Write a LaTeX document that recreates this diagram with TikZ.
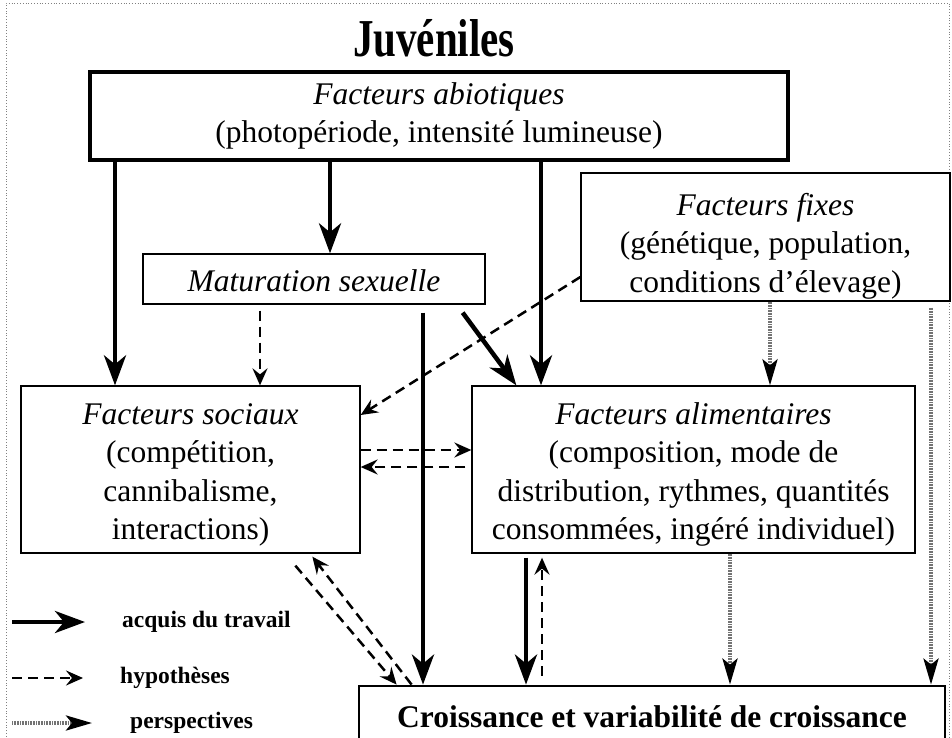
\documentclass[tikz,border=0pt]{standalone}
\usepackage{fontspec}
\usepackage{graphicx}
\setmainfont{Liberation Serif}
\usetikzlibrary{arrows.meta,calc}
\begin{document}
\begin{tikzpicture}[x=1pt,y=-1pt,
  box/.style={draw, line width=1.3pt, inner sep=0pt, align=center, font=\fontsize{31.5}{38.5}\selectfont},
  acq/.style={line width=4.5pt, -{Stealth[length=30pt,width=22pt,inset=9pt]}},
  hyp/.style={line width=2.5pt, dash pattern=on 10pt off 6pt, -{Stealth[length=17pt,width=15pt,inset=6pt]}},
  persp/.style={draw=black!55, line width=3.8pt, dash pattern=on 1pt off 0.6pt, -{Stealth[length=26pt,width=15pt,inset=6pt,color=black]}},
  legtext/.style={anchor=west, inner sep=0pt, font=\bfseries\fontsize{23.5}{23.5}\selectfont},
]
\useasboundingbox (0,0) rectangle (952,738);
\fill[white] (0,0) rectangle (952,738);
% outer dotted frame
\draw[gray, dotted, line width=0.8pt] (6,745) -- (6,3) -- (949,3) -- (949,745);

\node[anchor=base, inner sep=0pt, font=\bfseries\fontsize{41}{41}\selectfont] (title) at (434,57) {\scalebox{1}[1.3]{Juvéniles}};

\node[box, line width=4.5pt, minimum width=698pt, minimum height=88pt] (abio) at (439,116)
  {\textit{Facteurs abiotiques}\\(photopériode, intensité lumineuse)};
\node[box, minimum width=369pt, minimum height=128pt] (fix) at (765.5,237)
  {\rule{0pt}{40pt}\textit{Facteurs fixes}\\(génétique, population,\\conditions d’élevage)};
\node[box, minimum width=342pt, minimum height=50pt] (mat) at (314,279)
  {\rule{0pt}{25pt}\textit{Maturation sexuelle}};
\node[box, minimum width=339pt, minimum height=167pt] (soc) at (190.5,469.5)
  {\rule{0pt}{32pt}\textit{Facteurs sociaux}\\(compétition,\\cannibalisme,\\interactions)};
\node[box, minimum width=443pt, minimum height=167pt] (alim) at (693.5,469.5)
  {\rule{0pt}{32pt}\textit{Facteurs alimentaires}\\(composition, mode de\\distribution, rythmes, quantités\\consommées, ingéré individuel)};
\node[box, line width=2.8pt, minimum width=586pt, minimum height=62pt, font=\bfseries\fontsize{31.5}{31.5}\selectfont] (crois) at (652,717)
  {Croissance et variabilité de croissance};

% x helpers
\coordinate (c115) at (115,0);
\coordinate (c260) at (260,0);
\coordinate (c330) at (330,0);
\coordinate (c423) at (423,0);
\coordinate (c526) at (526,0);
\coordinate (c541) at (541,0);
\coordinate (c542) at (542,0);
\coordinate (c730) at (730,0);
\coordinate (c770) at (770,0);
\coordinate (c931) at (931,0);

% acquis du travail
\draw[acq] (abio.south -| c115) -- (soc.north -| c115);
\draw[acq] (abio.south -| c330) -- (mat.north -| c330);
\draw[acq] (abio.south -| c541) -- (alim.north -| c541);
\draw[acq] ($(mat.south east)+(-23,8)$) -- ($(alim.north west)+(45,0)$);
\draw[acq] ($(mat.south -| c423)+(0,8)$) -- (crois.north -| c423);
\draw[acq] ($(alim.south -| c526)+(0,4)$) -- (crois.north -| c526);

% hypotheses
\draw[hyp] ($(mat.south -| c260)+(0,6)$) -- (soc.north -| c260);
\draw[hyp] ($(fix.west)+(0,40)$) -- ($(soc.east)+(0,-54.5)$);
\draw[hyp] ($(soc.east)+(0,-19.5)$) -- ($(alim.west)+(0,-19.5)$);
\draw[hyp] ($(alim.west)+(-6,-2.5)$) -- ($(soc.east)+(0,-2.5)$);
\draw[hyp] ($(soc.south west)+(275,12)$) -- ($(crois.north west)+(39,0)$);
\draw[hyp] ($(crois.north west)+(54,0)$) -- ($(soc.south west)+(292,3)$);
\draw[hyp] ($(crois.north -| c542)+(0,-9)$) -- ($(alim.south -| c542)+(0,4)$);

% perspectives
\draw[persp] (fix.south -| c770) -- (alim.north -| c770);
\draw[persp] (alim.south -| c730) -- (crois.north -| c730);
\draw[persp] ($(fix.south -| c931)+(0,6)$) -- (crois.north -| c931);

% legend
\coordinate (l1a) at (12,622); \coordinate (l1b) at (85,622);
\coordinate (l2a) at (12,678); \coordinate (l2b) at (83,678);
\coordinate (l3a) at (12,723); \coordinate (l3b) at (92,723);
\draw[acq] (l1a) -- (l1b);
\draw[hyp] (l2a) -- (l2b);
\draw[persp] (l3a) -- (l3b);
\node[legtext] (t1) at (122,622) {acquis du travail};
\node[legtext] (t2) at (120,678) {hypothèses};
\node[legtext] (t3) at (130,723) {perspectives};
\end{tikzpicture}
\end{document}
